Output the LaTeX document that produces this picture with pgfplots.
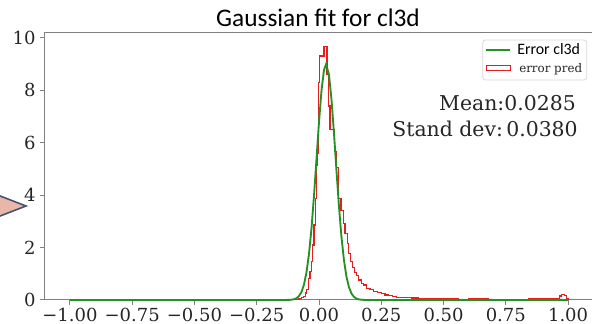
\documentclass[border=0pt]{standalone}
\usepackage{pgfplots}
\pgfplotsset{compat=1.18}
\usepackage{fontspec}
\setmainfont{DejaVu Serif}
\newfontfamily\carlito{Carlito}
\definecolor{hred}{RGB}{230,30,30}
\definecolor{hgreen}{RGB}{36,145,36}
\definecolor{spine}{RGB}{128,128,128}
\definecolor{arrowfill}{RGB}{233,183,170}
\definecolor{arrowline}{RGB}{68,84,106}

\pgfplotstableread{
x y
-0.100 0
-0.100 0.02
-0.090 0.03
-0.080 0.05
-0.070 0.10
-0.062 0.14
-0.055 0.27
-0.049 0.40
-0.042 0.83
-0.036 1.10
-0.030 1.46
-0.025 2.10
-0.020 2.86
-0.015 3.88
-0.010 5.15
-0.006 5.60
-0.002 8.29
0.002 9.31
0.020 9.67
0.032 8.61
0.038 7.40
0.044 6.51
0.062 5.66
0.071 5.05
0.078 3.88
0.088 3.43
0.097 2.93
0.104 2.55
0.113 2.16
0.120 1.78
0.127 1.46
0.134 1.23
0.142 1.05
0.151 0.92
0.160 0.76
0.170 0.64
0.178 0.57
0.190 0.45
0.205 0.40
0.218 0.32
0.235 0.28
0.251 0.26
0.265 0.19
0.280 0.16
0.295 0.13
0.310 0.11
0.330 0.10
0.350 0.09
0.370 0.08
0.400 0.07
0.420 0.05
0.450 0.06
0.480 0.04
0.520 0.05
0.560 0.03
0.600 0.04
0.640 0.05
0.680 0.03
0.720 0.02
0.760 0.03
0.800 0.02
0.840 0.04
0.880 0.05
0.920 0.04
0.950 0.07
0.965 0.15
0.975 0.22
0.985 0.18
0.993 0.06
1.000 0
}\histdata

\pgfplotstableread{
x y
-1.00 0
-0.50 0
-0.14 0.0005
-0.12 0.004
-0.11 0.012
-0.10 0.030
-0.09 0.070
-0.08 0.153
-0.07 0.313
-0.06 0.598
-0.05 1.066
-0.04 1.773
-0.03 2.752
-0.02 3.986
-0.01 5.387
0.00 6.794
0.01 7.994
0.02 8.778
0.0285 9.000
0.04 8.597
0.05 7.669
0.06 6.383
0.07 4.957
0.08 3.593
0.09 2.429
0.10 1.533
0.11 0.903
0.12 0.496
0.13 0.254
0.14 0.122
0.15 0.054
0.16 0.023
0.18 0.003
0.20 0.0003
0.50 0
1.00 0
}\gaussdata

\begin{document}
\begin{tikzpicture}
\useasboundingbox (-33.75pt,-18pt) rectangle (410.25pt,225pt);
\fill[arrowfill, draw=arrowline, line width=1.2pt] (-37.5pt,79.5pt) -- (-14.25pt,70.5pt) -- (-37.5pt,61.5pt) -- cycle;
\begin{axis}[
  at={(0,0)}, anchor=south west,
  scale only axis, width=411pt, height=200.25pt,
  xmin=-1.1, xmax=1.1, ymin=0, ymax=10.19,
  axis line style={spine, line width=0.75pt},
  tick style={spine, line width=0.75pt},
  tick align=outside, major tick length=3.5pt,
  xtick pos=bottom, ytick pos=left,
  xtick={-1,-0.75,-0.5,-0.25,0,0.25,0.5,0.75,1},
  xticklabels={−1.00,−0.75,−0.50,−0.25,0.00,0.25,0.50,0.75,1.00},
  ytick={0,2,4,6,8,10},
  yticklabels={0,2,4,6,8,10},
  ticklabel style={font=\fontsize{13.5}{15}\selectfont, text=black!85},
  xticklabel style={yshift=1pt},
  clip=false,
]
\addplot[hred, line width=0.9pt, const plot mark left]
  table[x=x, y=y] {\histdata};
\addplot[hgreen, line width=1.4pt]
  table[x=x, y=y] {\gaussdata};

% legend
\draw[black!15, fill=white, rounded corners=2pt, line width=0.6pt]
  (rel axis cs:0.7988,0.8240) rectangle (rel axis cs:0.9886,0.9738);
\draw[hgreen, line width=1.4pt] (rel axis cs:0.8042,0.9363) -- (rel axis cs:0.8486,0.9363);
\node[anchor=base west, inner sep=0pt, font=\carlito\fontsize{11.9}{13}\selectfont] at (rel axis cs:0.8613,0.9176) {Error cl3d};
\draw[hred, line width=0.75pt] (rel axis cs:0.8048,0.8577) rectangle (rel axis cs:0.8486,0.8801);
\node[anchor=base west, inner sep=0pt, text=black!85, font=\fontsize{8.9}{10}\selectfont] at (rel axis cs:0.8650,0.8528) {error pred};

\node[anchor=base, yshift=4.5pt, font=\carlito\fontsize{19}{22}\selectfont] at (rel axis cs:0.4982,1) {Gaussian fit for cl3d};
\node[anchor=base east, inner sep=0pt, text=black!85, font=\fontsize{15.3}{18}\selectfont] at (rel axis cs:0.969,0.7116) {Mean:0.0285};
\node[anchor=base east, inner sep=0pt, text=black!85, font=\fontsize{15.3}{18}\selectfont] at (rel axis cs:0.9726,0.6105) {Stand dev:\,0.0380};
\end{axis}
\end{tikzpicture}
\end{document}
